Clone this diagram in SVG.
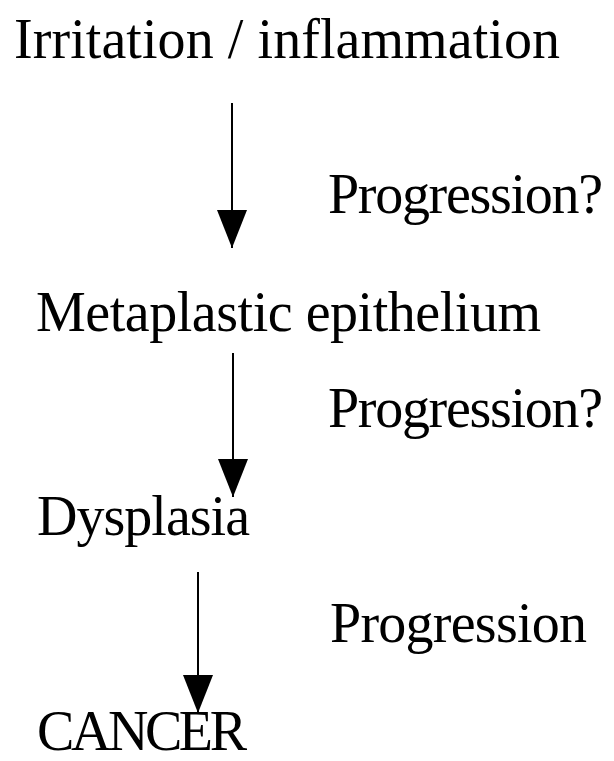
<svg xmlns="http://www.w3.org/2000/svg" width="614" height="761" viewBox="0 0 614 761">
<style>
text{font-family:"Liberation Serif","Times New Roman",serif;font-size:56px;fill:#000}
.edge{stroke:#000;stroke-width:2;fill:none}
</style>
<defs>
<marker id="ah" markerUnits="userSpaceOnUse" markerWidth="40" markerHeight="32" viewBox="0 0 40 32" refX="39" refY="16" orient="auto">
<path d="M1,1 L39,16 L1,31 Z" fill="#000"/>
</marker>
</defs>
<rect width="614" height="761" fill="#fff"/>
<g id="n-irritation"><text x="14" y="58" textLength="546" lengthAdjust="spacing">Irritation / inflammation</text></g>
<g id="n-metaplastic"><text x="36" y="331" textLength="505" lengthAdjust="spacing">Metaplastic  epithelium</text></g>
<g id="n-dysplasia"><text x="37" y="535" textLength="213" lengthAdjust="spacing">Dysplasia</text></g>
<g id="n-cancer"><text x="37" y="750" textLength="210" lengthAdjust="spacing">CANCER</text></g>
<g id="connectors">
<path class="edge" d="M232,103 V248" marker-end="url(#ah)"/>
<path class="edge" d="M233,353 V497" marker-end="url(#ah)"/>
<path class="edge" d="M198,572 V713" marker-end="url(#ah)"/>
<text x="328" y="213" textLength="275" lengthAdjust="spacing">Progression?</text>
<text x="328" y="427" textLength="275" lengthAdjust="spacing">Progression?</text>
<text x="330" y="642" textLength="257" lengthAdjust="spacing">Progression</text>
</g>
</svg>
